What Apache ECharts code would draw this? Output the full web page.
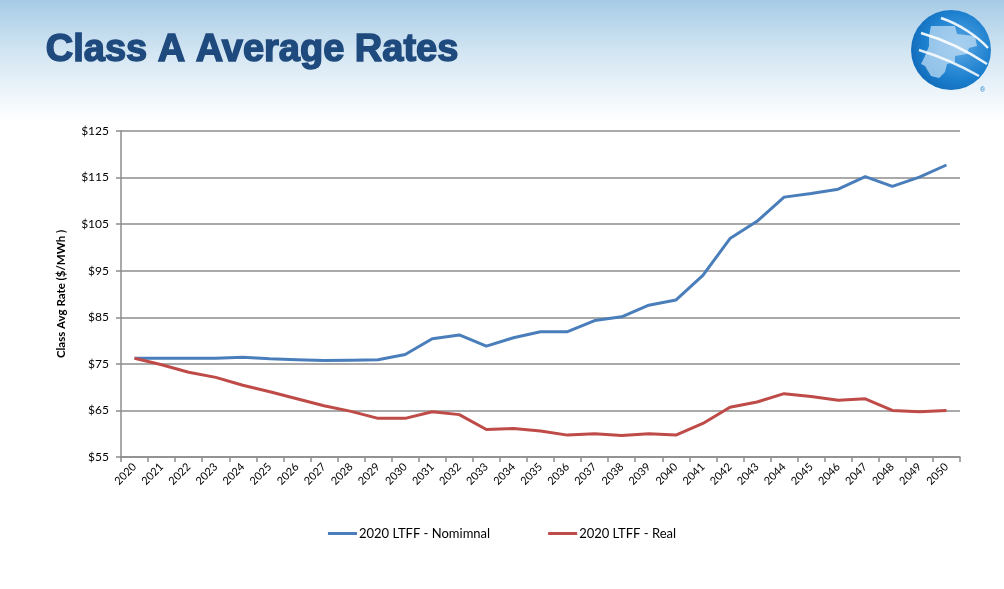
<!DOCTYPE html>
<html>
<head>
<meta charset="utf-8">
<script src="https://cdn.jsdelivr.net/npm/echarts@6/dist/echarts.min.js"></script>
<style>
html,body{margin:0;padding:0;background:#fff;}
#chart{width:1004px;height:589px;}
</style>
</head>
<body>
<div id="chart"></div>
<script>
const years = ['2020','2021','2022','2023','2024','2025','2026','2027','2028','2029','2030','2031','2032','2033','2034','2035','2036','2037','2038','2039','2040','2041','2042','2043','2044','2045','2046','2047','2048','2049','2050'];
const nominal = [76.2,76.2,76.2,76.2,76.4,76.1,75.9,75.7,75.8,75.9,77.0,80.4,81.2,78.8,80.6,81.9,81.9,84.3,85.1,87.6,88.7,94.0,101.9,105.6,110.8,111.6,112.5,115.2,113.1,115.1,117.7];
const real = [76.2,74.8,73.2,72.1,70.4,69.0,67.5,66.0,64.8,63.3,63.3,64.7,64.1,60.9,61.1,60.6,59.7,60.0,59.6,60.0,59.7,62.2,65.7,66.8,68.6,68.0,67.2,67.5,65.0,64.7,65.0];
const seriesNames = ['2020 LTFF - Nomimnal','2020 LTFF - Real'];
const yTicks = {min:55, max:125, interval:10};

const chart = echarts.init(document.getElementById('chart'), null, {renderer:'canvas'});
const font = 'Lato, "Open Sans", sans-serif';
const gridColor = '#8c8c8c';

chart.setOption({
  backgroundColor: '#ffffff',
  animation: false,
  graphic: [
    {
      type: 'rect', z: -10, silent: true,
      shape: {x:0, y:0, width:1004, height:120},
      style: {fill: new echarts.graphic.LinearGradient(0,0,0,1,[
        {offset:0, color:'#a6cbe6'},
        {offset:0.45, color:'#d4e6f3'},
        {offset:1, color:'#ffffff'}
      ])}
    },
    {
      type: 'text', left: 45, top: 31, z: 10,
      style: {
        text: 'Class A Average Rates',
        font: 'bold 38px "Liberation Sans", Arial, sans-serif',
        fill: '#1f4a7e',
        stroke: '#1f4a7e',
        lineWidth: 1.5
      }
    },
    {
      type: 'group', x: 911, y: 10, z: 10,
      children: [
        {
          type: 'circle', shape: {cx:40, cy:40, r:40},
          style: {fill: new echarts.graphic.RadialGradient(0.6,0.45,0.7,[
            {offset:0, color:'#5ba6e3'},
            {offset:0.6, color:'#1c80cf'},
            {offset:1, color:'#0d63b0'}
          ])}
        },
        {
          type: 'polygon',
          shape: {points:[[20,16],[44,16],[46,24],[64,26],[66,36],[58,38],[56,44],[44,46],[44,52],[36,54],[34,62],[28,68],[20,66],[14,56],[10,54],[14,46],[18,36],[18,26]]},
          style: {fill:'rgba(200,225,245,0.7)'}
        },
        {type:'bezierCurve', shape:{x1:30,y1:8,x2:77,y2:38,cpx1:48,cpy1:14,cpx2:66,cpy2:26}, style:{stroke:'rgba(255,255,255,0.9)', lineWidth:2.5, fill:null}},
        {type:'bezierCurve', shape:{x1:10,y1:23,x2:76,y2:54,cpx1:34,cpy1:30,cpx2:58,cpy2:42}, style:{stroke:'rgba(255,255,255,0.9)', lineWidth:2.5, fill:null}},
        {type:'bezierCurve', shape:{x1:8,y1:40,x2:68,y2:66,cpx1:28,cpy1:46,cpx2:50,cpy2:56}, style:{stroke:'rgba(255,255,255,0.85)', lineWidth:2.5, fill:null}},
        {type:'text', style:{text:'®', x:69, y:77, font:'7px sans-serif', fill:'#1c80cf'}}
      ]
    }
  ],
  grid: {left:121, right:44, top:131, bottom:132, containLabel:false},
  legend: {
    data: seriesNames,
    left: 'center', top: 522,
    icon: 'rect', itemWidth: 29, itemHeight: 3, itemGap: 58,
    textStyle: {fontFamily: font, fontSize: 13, color: '#000', padding:[0,0,0,-3]}
  },
  xAxis: {
    type: 'category', data: years, boundaryGap: true,
    axisLine: {lineStyle:{color:gridColor, width:1.5}},
    axisTick: {show:true, alignWithLabel:false, length:5, lineStyle:{color:gridColor, width:1.5}},
    axisLabel: {rotate:45, interval:0, fontFamily:font, fontSize:11, color:'#000', margin:8},
    splitLine: {show:false}
  },
  yAxis: {
    type: 'value', min: yTicks.min, max: yTicks.max, interval: yTicks.interval,
    name: 'Class Avg Rate ($/MWh )', nameLocation: 'middle', nameGap: 54, nameRotate: 90,
    nameTextStyle: {fontFamily: font, fontSize: 11.5, fontWeight: 'bold', color: '#000'},
    axisLine: {show:true, lineStyle:{color:gridColor, width:1.5}},
    axisTick: {show:true, length:5, lineStyle:{color:gridColor, width:1.5}},
    axisLabel: {fontFamily:font, fontSize:12, color:'#000', margin:12, formatter: v => '$' + v},
    splitLine: {show:true, lineStyle:{color:gridColor, width:1.5}}
  },
  series: [
    {name: seriesNames[0], type:'line', data: nominal, symbol:'none', lineStyle:{color:'#4a7ebb', width:3}, itemStyle:{color:'#4a7ebb'}},
    {name: seriesNames[1], type:'line', data: real, symbol:'none', lineStyle:{color:'#be4b48', width:3}, itemStyle:{color:'#be4b48'}}
  ]
});
</script>
</body>
</html>
